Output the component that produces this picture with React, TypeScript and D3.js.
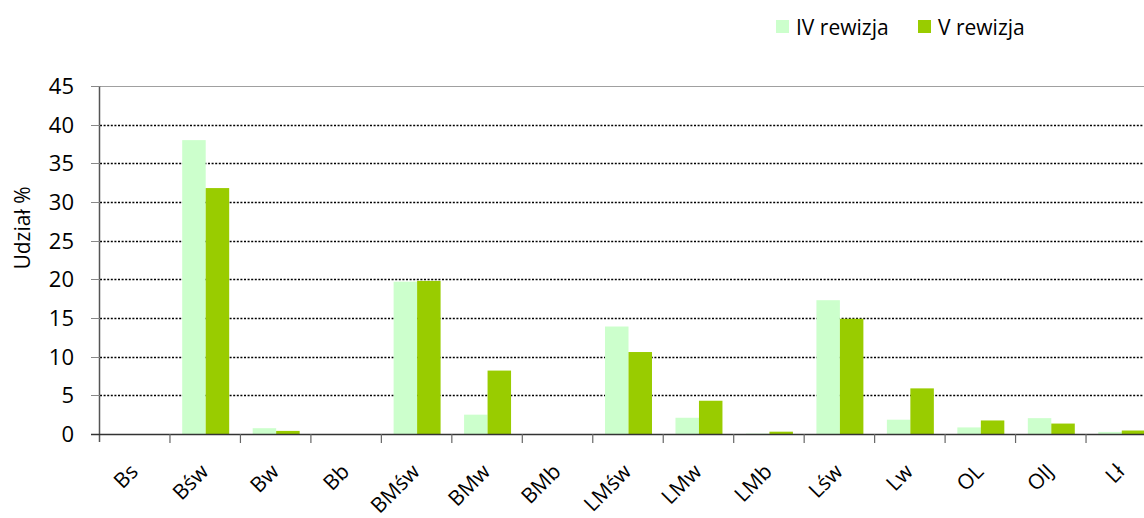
import React from "react";
import * as d3 from "d3";

const categories = ["Bs", "Bśw", "Bw", "Bb", "BMśw", "BMw", "BMb", "LMśw", "LMw", "LMb", "Lśw", "Lw", "OL", "OlJ", "Lł"];
const seriesIV = [0, 38.0, 0.75, 0, 19.7, 2.5, 0, 13.9, 2.1, 0.05, 17.3, 1.85, 0.85, 2.05, 0.27];
const seriesV = [0, 31.8, 0.4, 0, 19.8, 8.2, 0, 10.6, 4.3, 0.3, 14.9, 5.9, 1.75, 1.35, 0.45];
const yTicks = [0, 5, 10, 15, 20, 25, 30, 35, 40, 45];
const seriesNames = ["IV rewizja", "V rewizja"];
const colors = ["#CCFFCC", "#99CC00"];

const W = 1144, H = 518;
const FONT = "'Open Sans', sans-serif";

export default function App() {
  const x0 = 100, x1 = 1157, y0 = 434, yTop = 86;
  const x = d3.scaleBand<string>().domain(categories).range([x0, x1]).padding(0);
  const y = d3.scaleLinear().domain([0, 45]).range([y0, yTop]);
  const bw = x.bandwidth();
  const barW = bw / 3;
  const series = [seriesIV, seriesV];

  return (
    <svg width={W} height={H} style={{ position: "absolute", left: 0, top: 0, display: "block" }} fontFamily={FONT}>
      <rect width={W} height={H} fill="#fff" />
      {yTicks.filter(t => t > 0 && t < 45).map(t => (
        <line key={t} x1={x0} x2={W} y1={Math.round(y(t)) + 0.5} y2={Math.round(y(t)) + 0.5} stroke="#000" strokeWidth={1.3} strokeDasharray="2,1.6" />
      ))}
      <line x1={x0} x2={W} y1={yTop + 0.5} y2={yTop + 0.5} stroke="#a0a0a0" strokeWidth={1} />
      {series.map((s, si) => s.map((v, i) => {
        const bx = (x(categories[i]) as number) + bw / 6 + si * barW;
        return <rect key={si + "-" + i} x={bx} y={y(v)} width={barW} height={y0 - y(v)} fill={colors[si]} />;
      }))}
      <line x1={x0 - 0.5} x2={x0 - 0.5} y1={yTop} y2={y0 + 8} stroke="#555" strokeWidth={1.5} />
      {yTicks.map(t => (
        <g key={t}>
          <line x1={x0 - 9} x2={x0} y1={Math.round(y(t)) + 0.5} y2={Math.round(y(t)) + 0.5} stroke="#888" strokeWidth={1} />
          <text x={74} y={y(t)} dy="0.36em" textAnchor="end" fontSize={22} fill="#000">{t}</text>
        </g>
      ))}
      <line x1={x0 - 9} x2={W} y1={y0 + 0.5} y2={y0 + 0.5} stroke="#333" strokeWidth={1.5} />
      {categories.slice(1).map(c => (
        <line key={c} x1={(x(c) as number) - 0.5} x2={(x(c) as number) - 0.5} y1={y0} y2={y0 + 9} stroke="#666" strokeWidth={1.2} />
      ))}
      {categories.map(c => {
        const cx = (x(c) as number) + bw / 2 + 4;
        return (
          <text key={c} transform={`translate(${cx},${473}) rotate(-45)`} textAnchor="end" fontSize={21} fill="#000">{c}</text>
        );
      })}
      <text transform={`translate(30,228) rotate(-90)`} textAnchor="middle" fontSize={21} fill="#000">Udział %</text>
      {seriesNames.map((n, i) => {
        const lx = i === 0 ? 776 : 918;
        return (
          <g key={n}>
            <rect x={lx} y={20} width={13} height={13} fill={colors[i]} />
            <text x={lx + 20} y={27} dy="0.36em" fontSize={21} fill="#000">{n}</text>
          </g>
        );
      })}
    </svg>
  );
}
